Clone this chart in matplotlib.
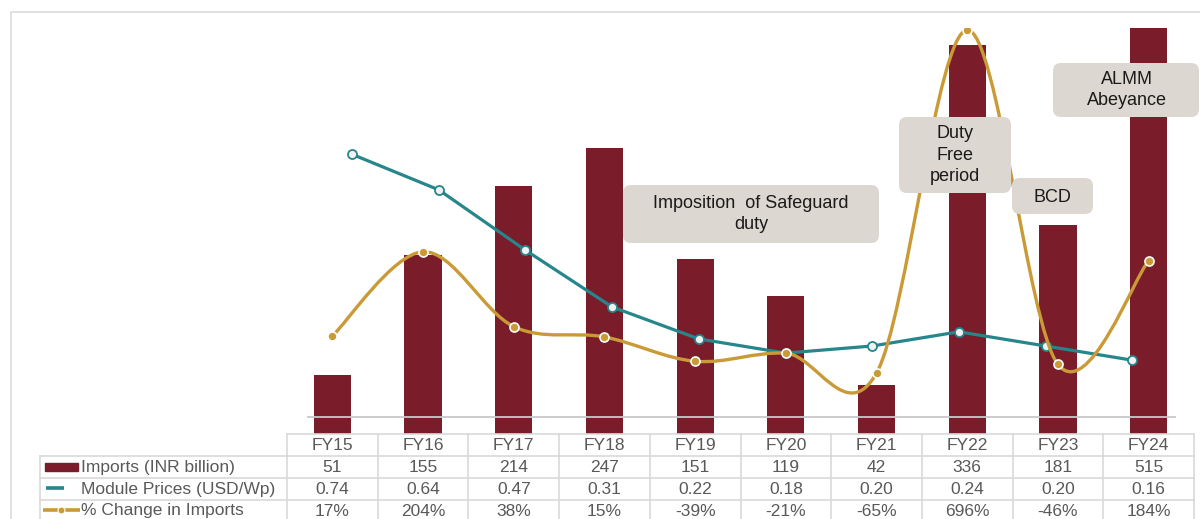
import matplotlib.pyplot as plt
from matplotlib.path import Path
from matplotlib.patches import PathPatch, FancyBboxPatch, Rectangle

plt.rcParams['font.family'] = ['Liberation Sans', 'DejaVu Sans']

# datos
years = ["FY15", "FY16", "FY17", "FY18", "FY19", "FY20", "FY21", "FY22", "FY23", "FY24"]
imports = [51, 155, 214, 247, 151, 119, 42, 336, 181, 515]
prices = [0.74, 0.64, 0.47, 0.31, 0.22, 0.18, 0.20, 0.24, 0.20, 0.16]
pct_change = [17, 204, 38, 15, -39, -21, -65, 696, -46, 184]

row_labels = ["Imports (INR billion)", "Module Prices (USD/Wp)", "% Change in Imports"]
notes = ["Imposition  of Safeguard\nduty", "Duty\nFree\nperiod", "BCD", "ALMM\nAbeyance"]

c_bar = "#7A1C2A"
c_teal = "#26868B"
c_gold = "#C99A35"
c_box = "#DCD7D0"
c_grid = "#D9D9D9"
c_txt = "#595959"

W, H = 1200, 519
fig = plt.figure(figsize=(12, 5.19), dpi=100)

# area del grafico en pixeles
x0, x1, ytop, ybot = 287, 1194, 28, 434
rect = [x0 / W, (H - ybot) / H, (x1 - x0) / W, (ybot - ytop) / H]

ax = fig.add_axes(rect)
xs = list(range(len(years)))
ax.bar(xs, imports, width=0.41, color=c_bar, zorder=2)
ax.set_xlim(-0.5, 9.5)
ax.set_ylim(0, (ybot - ytop) / 1.157)
ax.axis("off")

# precios (eje secundario, desplazado como en Excel)
ax2 = fig.add_axes(rect)
ax2.patch.set_alpha(0)
ax2.plot(xs, prices, color=c_teal, lw=2.3, marker="o", ms=6.5,
         mfc="#F2F2F2", mec=c_teal, mew=1.3, zorder=4)
ax2.axhline(0, xmin=(308 - x0) / (x1 - x0), xmax=(1175 - x0) / (x1 - x0),
            color="#C8C8C8", lw=1.3, zorder=3)
ax2.set_xlim((x0 - 352) / 86.7, (x1 - 352) / 86.7)
ax2.set_ylim(-(ybot - 417) / 355, (417 - ytop) / 355)
ax2.axis("off")

# % cambio, linea suavizada
ax3 = fig.add_axes(rect)
ax3.patch.set_alpha(0)
n = len(pct_change)
pts = list(zip(xs, pct_change))
verts = [pts[0]]
codes = [Path.MOVETO]
for i in range(n - 1):
    p0 = pts[max(i - 1, 0)]
    p1 = pts[i]
    p2 = pts[i + 1]
    p3 = pts[min(i + 2, n - 1)]
    c1 = (p1[0] + (p2[0] - p0[0]) / 6, p1[1] + (p2[1] - p0[1]) / 6)
    c2 = (p2[0] - (p3[0] - p1[0]) / 6, p2[1] - (p3[1] - p1[1]) / 6)
    verts += [c1, c2, p2]
    codes += [Path.CURVE4] * 3
ax3.add_patch(PathPatch(Path(verts, codes), fc="none", ec=c_gold, lw=2.4, zorder=3))
ax3.plot(xs, pct_change, ls="none", marker="o", ms=6.5, mfc=c_gold, mec="white",
         mew=1.2, zorder=4)
ax3.set_xlim(-0.5, 9.5)
ax3.set_ylim(-(ybot - 343.7) / 0.4507, (343.7 - ytop) / 0.4507)
ax3.axis("off")

# capa superior en pixeles: tabla, cajas, marco
ov = fig.add_axes([0, 0, 1, 1])
ov.patch.set_alpha(0)
ov.set_xlim(0, W)
ov.set_ylim(H, 0)
ov.axis("off")

ov.plot([11, 11, W], [H, 12, 12], color="#DCDCDC", lw=1.2)

colw = (x1 - x0) / len(years)
rows_y = [434, 456, 478, 500, 530]
ov.plot([x0, x1], [rows_y[0], rows_y[0]], color=c_grid, lw=1.2)
for yy in rows_y[1:4]:
    ov.plot([40, x1], [yy, yy], color=c_grid, lw=1.2)
for k in range(len(years) + 1):
    xx = x0 + k * colw
    ov.plot([xx, xx], [434, 530], color=c_grid, lw=1.2)
ov.plot([40, 40], [456, 530], color=c_grid, lw=1.2)

fs = 12.5
for i, y in enumerate(years):
    cx = x0 + (i + 0.5) * colw
    ov.text(cx, 445.5, y, ha="center", va="center", fontsize=fs, color=c_txt)
    ov.text(cx, 467.5, str(imports[i]), ha="center", va="center", fontsize=fs, color=c_txt)
    ov.text(cx, 489.5, f"{prices[i]:.2f}", ha="center", va="center", fontsize=fs, color=c_txt)
    ov.text(cx, 511, f"{pct_change[i]}%", ha="center", va="center", fontsize=fs, color=c_txt)

for lab, yy in zip(row_labels, [467.5, 489.5, 511]):
    ov.text(81, yy, lab, ha="left", va="center", fontsize=fs, color=c_txt)

# claves de leyenda
ov.add_patch(Rectangle((45, 463), 33, 7.5, color=c_bar))
ov.plot([46, 64], [488, 488], color=c_teal, lw=2.6, solid_capstyle="butt")
ov.plot([43, 80], [510, 510], color=c_gold, lw=2.6, solid_capstyle="butt")
ov.plot([61], [510], ls="none", marker="o", ms=5, mfc=c_gold, mec="white", mew=0.8)

# cajas de notas
boxes = [(623, 185, 256, 58, 751, 214),
         (899, 117, 112, 76, 955, 155),
         (1012, 178, 81, 36, 1052.5, 197),
         (1053, 63, 146, 54, 1127, 90)]
for (bx, by, bw, bh, tx, ty), txt in zip(boxes, notes):
    ov.add_patch(FancyBboxPatch((bx + 8, by + 8), bw - 16, bh - 16,
                                boxstyle="round,pad=8", fc=c_box, ec="none", zorder=5))
    ov.text(tx, ty, txt, ha="center", va="center", fontsize=13, color="#1A1A1A",
            linespacing=1.35, zorder=6)

fig.savefig("out.png", dpi=100)
